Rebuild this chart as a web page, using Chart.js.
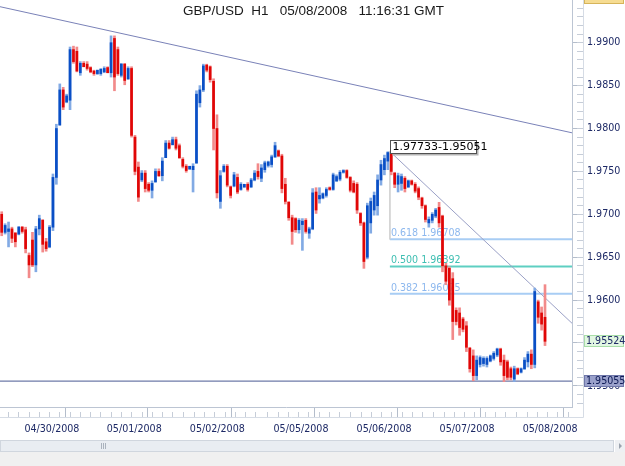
<!DOCTYPE html>
<html>
<head>
<meta charset="utf-8">
<title>GBP/USD H1</title>
<script src="https://cdn.jsdelivr.net/npm/chart.js@4.4.1/dist/chart.umd.min.js"></script>
<style>
  html, body { margin: 0; padding: 0; background: #fff; }
  #wrap { width: 625px; height: 466px; }
</style>
</head>
<body>
<div id="wrap"><canvas id="myChart" width="625" height="466"></canvas></div>
<script>
  // hourly bars (open / high / low / close)
  const opens = [
    1.9700,1.9679,1.9680,1.9683,1.9678,1.9677,1.9685,1.9682,1.9652,1.9670,
    1.9641,1.9683,1.9693,1.9668,1.9662,1.9685,1.9743,1.9804,1.9845,1.9831,
    1.9833,1.9892,1.9890,1.9865,1.9876,1.9875,1.9871,1.9867,1.9864,1.9864,
    1.9866,1.9871,1.9865,1.9905,1.9892,1.9862,1.9875,1.9858,1.9870,1.9790,
    1.9755,1.9740,1.9748,1.9735,1.9728,1.9738,1.9750,1.9745,1.9766,1.9783,
    1.9781,1.9787,1.9780,1.9764,1.9756,1.9753,1.9752,1.9760,1.9830,1.9845,
    1.9874,1.9872,1.9855,1.9800,1.9715,1.9750,1.9756,1.9732,1.9733,1.9743,
    1.9729,1.9732,1.9735,1.9732,1.9740,1.9750,1.9742,1.9752,1.9757,1.9758,
    1.9767,1.9774,1.9768,1.9735,1.9714,1.9696,1.9695,1.9682,1.9688,1.9693,
    1.9678,1.9683,1.9726,1.9718,1.9719,1.9722,1.9731,1.9729,1.9739,1.9741,
    1.9749,1.9751,1.9743,1.9736,1.9735,1.9701,1.9690,1.9650,1.9690,1.9705,
    1.9710,1.9740,1.9752,1.9762,1.9771,1.9748,1.9735,1.9736,1.9742,1.9732,
    1.9739,1.9735,1.9730,1.9719,1.9710,1.9690,1.9693,1.9698,1.9708,1.9698,
    1.9640,1.9637,1.9625,1.9588,1.9585,1.9578,1.9570,1.9544,1.9535,1.9512,
    1.9525,1.9526,1.9525,1.9529,1.9532,1.9536,1.9543,1.9530,1.9528,1.9520,
    1.9508,1.9520,1.9516,1.9520,1.9528,1.9537,1.9525,1.9598,1.9585,1.9580
  ];
  const highs = [
    1.9703,1.9689,1.9691,1.9685,1.9679,1.9686,1.9686,1.9685,1.9655,1.9679,
    1.9686,1.9699,1.9694,1.9672,1.9687,1.9747,1.9805,1.9852,1.9848,1.9840,
    1.9895,1.9896,1.9895,1.9878,1.9878,1.9878,1.9872,1.9868,1.9868,1.9870,
    1.9872,1.9872,1.9908,1.9908,1.9895,1.9876,1.9876,1.9872,1.9872,1.9792,
    1.9761,1.9751,1.9751,1.9737,1.9739,1.9753,1.9753,1.9766,1.9786,1.9786,
    1.9790,1.9790,1.9782,1.9766,1.9758,1.9756,1.9759,1.9844,1.9850,1.9875,
    1.9875,1.9873,1.9858,1.9816,1.9751,1.9758,1.9758,1.9733,1.9749,1.9747,
    1.9737,1.9735,1.9737,1.9742,1.9751,1.9759,1.9758,1.9762,1.9762,1.9769,
    1.9784,1.9775,1.9770,1.9742,1.9715,1.9699,1.9696,1.9695,1.9695,1.9695,
    1.9685,1.9730,1.9731,1.9731,1.9725,1.9731,1.9732,1.9748,1.9746,1.9751,
    1.9752,1.9752,1.9744,1.9739,1.9737,1.9702,1.9691,1.9713,1.9719,1.9726,
    1.9746,1.9763,1.9769,1.9773,1.9773,1.9749,1.9748,1.9747,1.9744,1.9740,
    1.9740,1.9737,1.9732,1.9720,1.9711,1.9697,1.9702,1.9707,1.9714,1.9699,
    1.9643,1.9639,1.9632,1.9591,1.9591,1.9580,1.9575,1.9545,1.9542,1.9535,
    1.9535,1.9534,1.9534,1.9536,1.9540,1.9544,1.9544,1.9536,1.9530,1.9522,
    1.9523,1.9521,1.9521,1.9533,1.9540,1.9542,1.9614,1.9600,1.9592,1.9618
  ];
  const lows = [
    1.9675,1.9677,1.9662,1.9667,1.9662,1.9676,1.9678,1.9655,1.9626,1.9639,
    1.9633,1.9676,1.9656,1.9657,1.9661,1.9681,1.9735,1.9804,1.9822,1.9830,
    1.9822,1.9876,1.9866,1.9862,1.9872,1.9868,1.9865,1.9862,1.9863,1.9862,
    1.9865,1.9865,1.9860,1.9844,1.9862,1.9860,1.9851,1.9857,1.9790,1.9746,
    1.9715,1.9738,1.9726,1.9726,1.9719,1.9737,1.9744,1.9739,1.9766,1.9776,
    1.9781,1.9775,1.9765,1.9754,1.9749,1.9752,1.9726,1.9759,1.9825,1.9843,
    1.9866,1.9854,1.9775,1.9719,1.9707,1.9749,1.9732,1.9719,1.9732,1.9724,
    1.9728,1.9731,1.9727,1.9731,1.9739,1.9741,1.9738,1.9749,1.9755,1.9755,
    1.9766,1.9767,1.9725,1.9712,1.9693,1.9665,1.9679,1.9678,1.9658,1.9678,
    1.9672,1.9682,1.9701,1.9713,1.9718,1.9720,1.9728,1.9728,1.9738,1.9739,
    1.9748,1.9742,1.9726,1.9725,1.9701,1.9687,1.9637,1.9648,1.9678,1.9699,
    1.9699,1.9734,1.9746,1.9752,1.9746,1.9731,1.9726,1.9728,1.9726,1.9731,
    1.9734,1.9725,1.9717,1.9707,1.9691,1.9685,1.9690,1.9696,1.9685,1.9633,
    1.9618,1.9594,1.9554,1.9571,1.9559,1.9563,1.9540,1.9516,1.9506,1.9507,
    1.9522,1.9523,1.9522,1.9528,1.9530,1.9534,1.9524,1.9505,1.9507,1.9507,
    1.9505,1.9513,1.9515,1.9519,1.9522,1.9520,1.9521,1.9573,1.9565,1.9547
  ];
  const closes = [
    1.9679,1.9687,1.9683,1.9672,1.9668,1.9685,1.9680,1.9660,1.9641,1.9641,
    1.9683,1.9695,1.9665,1.9660,1.9685,1.9743,1.9800,1.9845,1.9825,1.9838,
    1.9892,1.9878,1.9867,1.9876,1.9872,1.9870,1.9866,1.9864,1.9868,1.9869,
    1.9870,1.9865,1.9900,1.9860,1.9864,1.9875,1.9856,1.9870,1.9792,1.9750,
    1.9720,1.9748,1.9730,1.9728,1.9736,1.9750,1.9745,1.9762,1.9783,1.9777,
    1.9787,1.9777,1.9766,1.9756,1.9751,1.9756,1.9756,1.9840,1.9845,1.9873,
    1.9868,1.9857,1.9800,1.9725,1.9745,1.9756,1.9734,1.9722,1.9746,1.9726,
    1.9735,1.9735,1.9729,1.9740,1.9748,1.9744,1.9754,1.9760,1.9761,1.9767,
    1.9780,1.9768,1.9730,1.9715,1.9696,1.9680,1.9682,1.9693,1.9692,1.9680,
    1.9683,1.9725,1.9705,1.9722,1.9724,1.9729,1.9729,1.9746,1.9744,1.9749,
    1.9751,1.9743,1.9728,1.9726,1.9705,1.9690,1.9645,1.9710,1.9715,1.9722,
    1.9740,1.9758,1.9765,1.9772,1.9750,1.9735,1.9745,1.9744,1.9730,1.9739,
    1.9735,1.9727,1.9720,1.9710,1.9694,1.9694,1.9700,1.9705,1.9690,1.9640,
    1.9622,1.9600,1.9575,1.9575,1.9568,1.9566,1.9545,1.9520,1.9512,1.9530,
    1.9533,1.9532,1.9532,1.9535,1.9538,1.9543,1.9528,1.9512,1.9510,1.9510,
    1.9520,1.9514,1.9520,1.9530,1.9537,1.9525,1.9610,1.9580,1.9572,1.9552
  ];

  // x axis (bar index), y axis (price)
  const dayTicks = [6.5, 30.6, 54.9, 79.4, 103.7, 128.0, 152.3];
  const dayLabels = ['04/30/2008', '05/01/2008', '05/02/2008', '05/05/2008', '05/06/2008', '05/07/2008', '05/08/2008'];
  const priceTicks = [1.9500, 1.9550, 1.9600, 1.9650, 1.9700, 1.9750, 1.9800, 1.9850, 1.9900];
  const xMin = -0.5, xMax = 166.9;
  const yMin = 1.94754, yMax = 1.99498;

  // drawing objects
  const fibLevels = [1.96708, 1.96392, 1.96075];
  const fibNames = ['0.618', '0.500', '0.382'];
  const fibStart = 113.6;
  const swingHigh = 1.97733, swingLow = 1.95051;
  const supportLevel = 1.95055;
  const lastPrice = 1.95524;
  const trendA = [[-0.5, 1.9942], [166.9, 1.9795]];
  const trendB = [[113.6, 1.97733], [166.9, 1.9573]];

  const upBody = '#0a4fc6', upWick = '#82aae4';
  const dnBody = '#e00606', dnWick = '#f28a8a';
  const tickFont = { family: '"DejaVu Sans Condensed", "DejaVu Sans"', size: 10.6 };

  const isUp = i => closes[i] >= opens[i];
  const wickData = opens.map((o, i) => ({ x: i, y: [lows[i], highs[i]] }));
  const bodyData = opens.map((o, i) => ({ x: i, y: [o, closes[i]] }));
  const seg = pts => pts.map(p => ({ x: p[0], y: p[1] }));

  function lineSet(pts, color, width) {
    return {
      type: 'line', data: seg(pts), borderColor: color, borderWidth: width,
      pointRadius: 0, fill: false, order: 3
    };
  }

  // short ticks: every 3 bars inside each day, every 0.001 on price
  const xMinorTicks = [dayTicks[0] - 6, dayTicks[0] - 3];
  dayTicks.forEach(d => {
    for (let k = 1; k < 8; k++) if (d + 3 * k <= xMax) xMinorTicks.push(d + 3 * k);
  });
  const yMinorTicks = [];
  for (let k = 1948; k <= 1994; k++) yMinorTicks.push(k / 1000);

  const decor = {
    id: 'decor',
    beforeDraw(chart) {
      const c = chart.ctx;
      c.save();
      c.fillStyle = '#ffffff';
      c.fillRect(0, 0, chart.width, chart.height);
      // scrollbar strip
      c.fillStyle = '#f0f0f0';
      c.fillRect(0, 452, chart.width, 14);
      c.fillStyle = '#e9edf2';
      c.fillRect(0, 440, 614, 12);
      c.strokeStyle = '#d0d6de';
      c.strokeRect(0.5, 440.5, 613, 11);
      c.strokeStyle = '#aab2bd';
      for (let k = 0; k < 3; k++) {
        c.beginPath(); c.moveTo(101.5 + k * 2, 443); c.lineTo(101.5 + k * 2, 449); c.stroke();
      }
      c.fillStyle = '#eef0f3';
      c.fillRect(615, 440, 10, 12);
      c.fillStyle = '#9aa2ae';
      c.beginPath(); c.moveTo(619, 443); c.lineTo(622, 446); c.lineTo(619, 449); c.fill();
      c.restore();
    },
    beforeDatasetsDraw(chart) {
      const { ctx: c, scales: { x, y } } = chart;
      const colors = ['#8db8ee', '#3fbfb2', '#8db8ee'];
      c.save();
      c.font = '10.6px "DejaVu Sans Condensed", "DejaVu Sans"';
      c.textBaseline = 'alphabetic';
      fibLevels.forEach((lv, k) => {
        c.fillStyle = colors[k];
        c.fillText(fibNames[k] + ' ' + lv.toFixed(5), x.getPixelForValue(fibStart) + 1, y.getPixelForValue(lv) - 3);
      });
      c.restore();
    },
    afterDatasetsDraw(chart) {
      const { ctx: c, scales: { x, y } } = chart;
      const bx = Math.round(x.getPixelForValue(fibStart)) + 0.5;
      const by = Math.round(y.getPixelForValue(swingHigh)) + 0.5;
      c.save();
      c.fillStyle = '#b4b4b4';
      c.fillRect(bx + 2, by - 9, 86, 13);
      c.fillStyle = '#ffffff';
      c.fillRect(bx, by - 11, 86, 13);
      c.strokeStyle = '#505050';
      c.lineWidth = 1;
      c.strokeRect(bx, by - 11, 86, 13);
      c.fillStyle = '#000000';
      c.font = '11px "DejaVu Sans"';
      c.textBaseline = 'alphabetic';
      c.fillText(swingHigh.toFixed(5) + '-' + swingLow.toFixed(5), bx + 2, by - 1.5);
      c.restore();
    },
    afterDraw(chart) {
      const { ctx: c, scales: { y } } = chart;
      c.save();
      // axis strip edges
      c.strokeStyle = '#d6dce5';
      c.beginPath(); c.moveTo(0, 417.5); c.lineTo(583.5, 417.5); c.lineTo(583.5, 0); c.stroke();
      // price markers on the right axis
      const marks = [
        [lastPrice, '#e2f7e2', '#a8dea8', '#1e2a66'],
        [supportLevel, '#9aa1cb', '#7078aa', '#0e1a55']
      ];
      c.font = '10.6px "DejaVu Sans Condensed", "DejaVu Sans"';
      c.textBaseline = 'middle';
      marks.forEach(m => {
        const py = Math.round(y.getPixelForValue(m[0]));
        c.fillStyle = m[1];
        c.fillRect(584, py - 6, 40, 12);
        c.strokeStyle = m[2];
        c.strokeRect(584.5, py - 5.5, 39, 11);
        c.fillStyle = m[3];
        c.fillText(m[0].toFixed(5), 586, py + 0.5);
      });
      c.fillStyle = '#f6dc92';
      c.fillRect(584, -6, 40, 9.5);
      c.strokeStyle = '#d6b45a';
      c.strokeRect(584.5, -5.5, 39, 9);
      // title
      c.fillStyle = '#1a1a1a';
      c.font = '13.5px "Liberation Sans"';
      c.textBaseline = 'alphabetic';
      c.fillText('GBP/USD  H1   05/08/2008   11:16:31 GMT', 183, 15);
      c.restore();
    }
  };

  const data = {
    datasets: [
      {
        type: 'bar', data: bodyData, order: 1, grouped: false,
        barThickness: 2, minBarLength: 1, borderWidth: 0,
        backgroundColor: ctx => isUp(ctx.dataIndex) ? upBody : dnBody
      },
      {
        type: 'bar', data: wickData, order: 2, grouped: false,
        barThickness: 2, minBarLength: 1, borderWidth: 0,
        backgroundColor: ctx => isUp(ctx.dataIndex) ? upWick : dnWick
      },
      lineSet(trendA, '#7a82b8', 1),
      lineSet(trendB, '#9aa0c6', 1),
      lineSet([[fibStart, swingHigh], [fibStart, fibLevels[0]]], '#d2d2d2', 1),
      lineSet([[fibStart, fibLevels[0]], [xMax, fibLevels[0]]], '#a8cdf4', 2),
      lineSet([[fibStart, fibLevels[1]], [xMax, fibLevels[1]]], '#5ecfc2', 2),
      lineSet([[fibStart, fibLevels[2]], [xMax, fibLevels[2]]], '#a8cdf4', 2),
      lineSet([[xMin, supportLevel], [xMax, supportLevel]], '#6e7aa8', 1.2)
    ]
  };

  const config = {
    type: 'bar',
    data: data,
    options: {
      responsive: false,
      animation: false,
      events: [],
      layout: { padding: 0 },
      plugins: { legend: { display: false }, tooltip: { enabled: false } },
      scales: {
        // inner strip: long day ticks only
        xMajor: {
          type: 'linear', position: 'bottom', weight: 0, min: xMin, max: xMax, offset: false,
          afterBuildTicks: s => { s.ticks = dayTicks.map(v => ({ value: v })); },
          afterFit: s => { s.height = 5; s.paddingLeft = 0; s.paddingRight = 0; },
          grid: { drawOnChartArea: false, tickLength: 11, color: '#b4bdcb' },
          border: { display: true, color: '#bcc5d3' },
          ticks: { autoSkip: false, maxRotation: 0, padding: 0, callback: () => '' }
        },
        // outer: short ticks plus the date labels
        x: {
          type: 'linear', position: 'bottom', weight: 1, min: xMin, max: xMax, offset: false,
          afterBuildTicks: s => {
            s.ticks = xMinorTicks.concat(dayTicks).sort((a, b) => a - b).map(v => ({ value: v }));
          },
          afterFit: s => { s.height = 54; s.paddingLeft = 0; s.paddingRight = 0; },
          grid: { drawOnChartArea: false, tickLength: 6, color: '#c6cdd8' },
          border: { display: false },
          ticks: {
            autoSkip: false, maxRotation: 0, padding: 4.5, labelOffset: 28,
            color: '#1e2a66', font: tickFont,
            callback: v => {
              const k = dayTicks.indexOf(v);
              return k >= 0 ? dayLabels[k] : '';
            }
          }
        },
        yMajor: {
          type: 'linear', position: 'right', weight: 0, min: yMin, max: yMax,
          afterBuildTicks: s => { s.ticks = priceTicks.map(v => ({ value: v })); },
          afterFit: s => { s.width = 5; s.paddingTop = 0; s.paddingBottom = 0; },
          grid: { drawOnChartArea: false, tickLength: 11, color: '#b4bdcb' },
          border: { display: true, color: '#bcc5d3' },
          ticks: { padding: 0, callback: () => '' }
        },
        y: {
          type: 'linear', position: 'right', weight: 1, min: yMin, max: yMax,
          afterBuildTicks: s => { s.ticks = yMinorTicks.map(v => ({ value: v })); },
          afterFit: s => { s.width = 48; s.paddingTop = 0; s.paddingBottom = 0; },
          grid: { drawOnChartArea: false, tickLength: 6, color: '#c6cdd8' },
          border: { display: false },
          ticks: {
            autoSkip: false, padding: 4, color: '#1e2a66', font: tickFont,
            callback: v => priceTicks.some(p => Math.abs(p - v) < 1e-6) ? v.toFixed(4) : ''
          }
        }
      }
    },
    plugins: [decor]
  };

  const myChart = new Chart(
    document.getElementById('myChart'),
    config
  );
</script>
</body>
</html>
